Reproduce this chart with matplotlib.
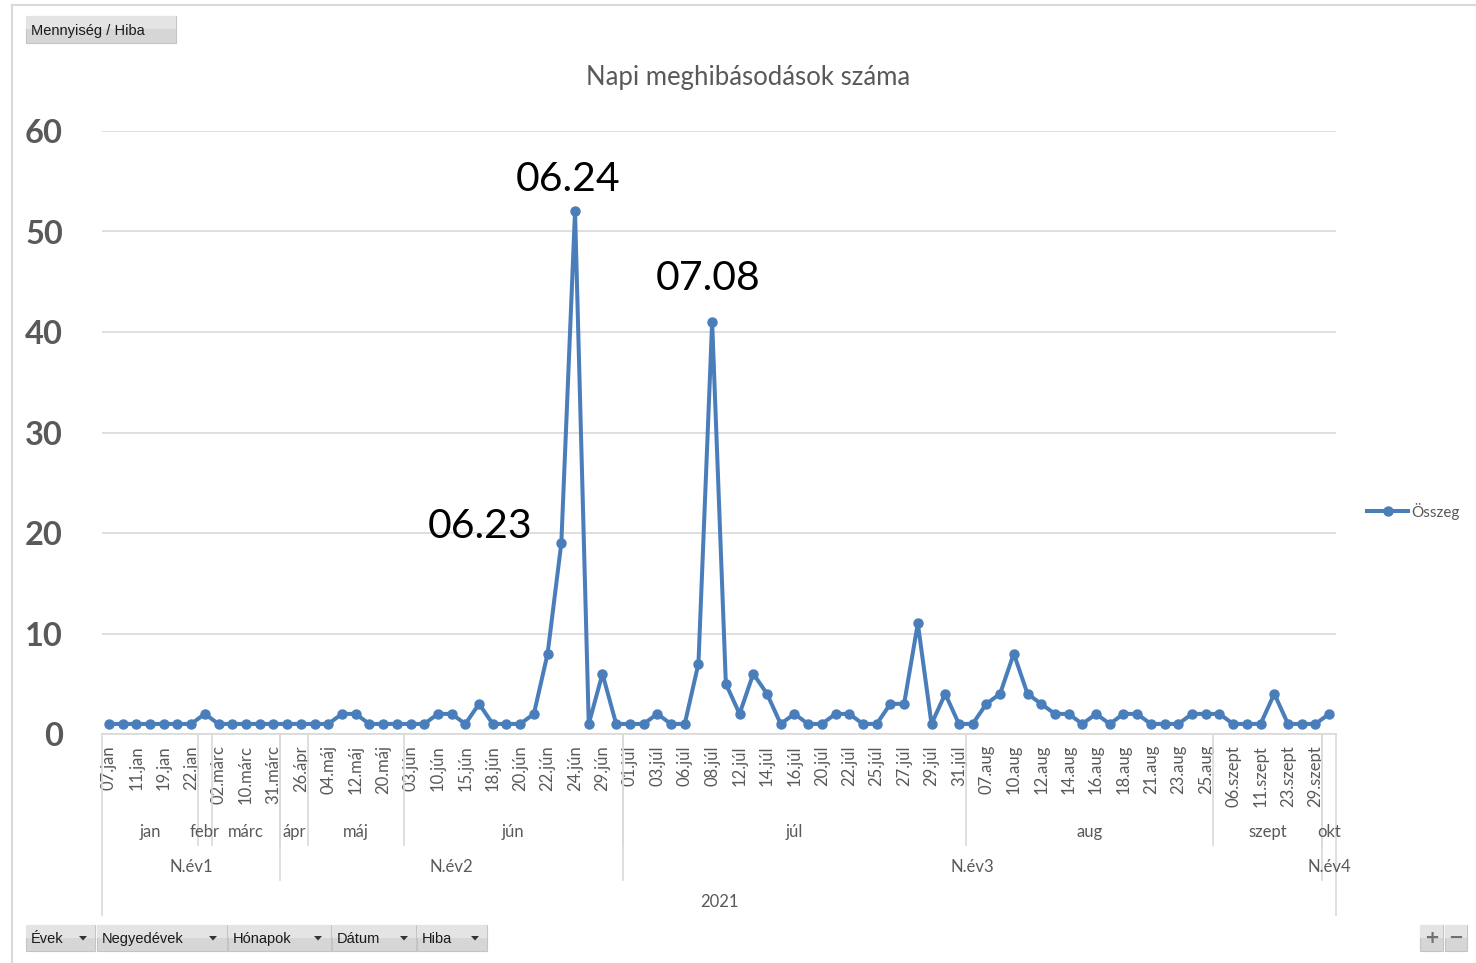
import matplotlib

matplotlib.use("Agg")
import matplotlib.pyplot as plt
from matplotlib.patches import Rectangle, Polygon
from matplotlib.lines import Line2D
from matplotlib.transforms import blended_transform_factory

W, H = 1476, 963

# daily failure counts, one per listed date (pivot chart categories)
values = [
    1, 1, 1, 1, 1, 1, 1,                      # jan
    2,                                        # febr
    1, 1, 1, 1, 1,                            # márc
    1, 1,                                     # ápr
    1, 1, 2, 2, 1, 1, 1,                      # máj
    1, 1, 2, 2, 1, 3, 1, 1, 1, 2, 8, 19, 52, 1, 6, 1,   # jún
    1, 1, 2, 1, 1, 7, 41, 5, 2, 6, 4, 1, 2, 1, 1, 2, 2, 1, 1, 3, 3, 11, 1, 4, 1,  # júl
    1, 3, 4, 8, 4, 3, 2, 2, 1, 2, 1, 2, 2, 1, 1, 1, 2, 2,  # aug
    2, 1, 1, 1, 4, 1, 1, 1,                   # szept
    2,                                        # okt
]

# only every second date label is shown on the axis
date_labels = [
    "07.jan", "11.jan", "19.jan", "22.jan", "02.márc", "10.márc", "31.márc",
    "26.ápr", "04.máj", "12.máj", "20.máj", "03.jún", "10.jún", "15.jún",
    "18.jún", "20.jún", "22.jún", "24.jún", "29.jún", "01.júl", "03.júl",
    "06.júl", "08.júl", "12.júl", "14.júl", "16.júl", "20.júl", "22.júl",
    "25.júl", "27.júl", "29.júl", "31.júl", "07.aug", "10.aug", "12.aug",
    "14.aug", "16.aug", "18.aug", "21.aug", "23.aug", "25.aug", "06.szept",
    "11.szept", "23.szept", "29.szept",
]

months = ["jan", "febr", "márc", "ápr", "máj", "jún", "júl", "aug", "szept", "okt"]
month_counts = [7, 1, 5, 2, 7, 16, 25, 18, 8, 1]
quarters = ["N.év1", "N.év2", "N.év3", "N.év4"]
quarter_counts = [13, 25, 51, 1]
year_label = "2021"

# highlighted points: (index, text)
callouts = [(33, "06.23"), (34, "06.24"), (44, "07.08")]

GRAY = "#595959"
GRID = "#d9d9d9"
BLUE = "#4a7ebb"
FONT = "Lato"


def fx(x):
    return x / W


def fy(y):
    return 1 - y / H


fig = plt.figure(figsize=(W / 100, H / 100), dpi=100)
fig.patch.set_facecolor("white")

# outer frame of the chart object
fig.add_artist(Line2D([fx(12), fx(1476)], [fy(5), fy(5)], color=GRID, lw=1.5))
fig.add_artist(Line2D([fx(12), fx(12)], [fy(5), fy(963)], color=GRID, lw=1.5))

ax = fig.add_axes([fx(102), fy(734), fx(1336) - fx(102), (734 - 131) / H])
n = len(values)
x = list(range(n))
ax.plot(x, values, color=BLUE, lw=2.9, marker="o", ms=6.5, zorder=3)
ax.set_xlim(-0.5, n - 0.5)
ax.set_ylim(0, 60)
ax.set_yticks(range(0, 61, 10))
ax.yaxis.grid(True, color=GRID, lw=1.2)
ax.set_axisbelow(True)
for s in ("left", "right", "top"):
    ax.spines[s].set_visible(False)
ax.spines["bottom"].set_color(GRID)
ax.spines["bottom"].set_linewidth(1.2)
ax.tick_params(axis="y", length=0, pad=28, labelsize=23.5, labelcolor=GRAY)
for lab in ax.get_yticklabels():
    lab.set_fontweight("bold")
    lab.set_family(FONT)
ax.set_xticks(range(0, n, 2))
ax.set_xticklabels(date_labels, rotation=90, fontsize=12, color=GRAY, family=FONT)
ax.tick_params(axis="x", length=0, pad=8)

# callout labels
offsets = {33: (-81, 17), 34: (-7, 32), 44: (-4, 43)}
for i, txt in callouts:
    dx, dy = offsets[i]
    ax.annotate(txt, (i, values[i]), xytext=(dx, dy), textcoords="offset pixels",
                ha="center", va="center", fontsize=29.5, family=FONT, color="black")

# multi-level category axis (months / quarters / year)
tr = blended_transform_factory(ax.transData, fig.transFigure)


def group_row(names, counts, ytext, yline):
    start = 0
    for name, c in zip(names, counts):
        mid = start + (c - 1) / 2
        ax.text(mid, fy(ytext), name, transform=tr, ha="center", va="center",
                fontsize=12, color=GRAY, family=FONT, clip_on=False)
        start += c
        if start < n:
            ax.add_artist(Line2D([start - 0.5, start - 0.5], [fy(734), fy(yline)],
                                 transform=tr, color=GRID, lw=1.2, clip_on=False))


group_row(months, month_counts, 832, 845)
group_row(quarters, quarter_counts, 867, 880)
ax.text((n - 1) / 2, fy(902), year_label, transform=tr, ha="center", va="center",
        fontsize=12, color=GRAY, family=FONT, clip_on=False)
for edge in (-0.5, n - 0.5):
    ax.add_artist(Line2D([edge, edge], [fy(734), fy(915)], transform=tr,
                         color=GRID, lw=1.2, clip_on=False))

# title
fig.text(fx(748), fy(77), "Napi meghibásodások száma", ha="center", va="center",
         fontsize=18.5, color=GRAY, family=FONT)

# legend
fig.add_artist(Line2D([fx(1367), fx(1408)], [fy(511), fy(511)], color=BLUE, lw=2.9))
fig.add_artist(Line2D([fx(1388)], [fy(511)], color=BLUE, marker="o", ms=6.5))
fig.text(fx(1411), fy(511), "Összeg", ha="left", va="center", fontsize=11,
         color=GRAY, family=FONT)


# pivot field buttons
def button(x0, x1, y0, y1, label=None, arrow_x=None, center=False):
    fig.add_artist(Rectangle((fx(x0), fy(y1)), fx(x1) - fx(x0), (y1 - y0) / H,
                             transform=fig.transFigure, facecolor="#d6d6d6",
                             edgecolor="#c4c4c4", lw=0.8))
    fig.add_artist(Rectangle((fx(x0), fy((y0 + y1) / 2)), fx(x1) - fx(x0),
                             (y1 - y0) / 2 / H, transform=fig.transFigure,
                             facecolor="#e4e4e4", edgecolor="none"))
    if label is not None:
        if center:
            fig.text(fx((x0 + x1) / 2), fy((y0 + y1) / 2), label, ha="center",
                     va="center", fontsize=13, color="#707070",
                     family="DejaVu Sans", fontweight="bold")
        else:
            fig.text(fx(x0 + 5), fy((y0 + y1) / 2 + 1), label, ha="left",
                     va="center", fontsize=10.5, color="#1a1a1a",
                     family="Liberation Sans")
    if arrow_x is not None:
        yc = (y0 + y1) / 2
        fig.add_artist(Polygon([(fx(arrow_x - 4), fy(yc - 2)), (fx(arrow_x + 4), fy(yc - 2)),
                                (fx(arrow_x), fy(yc + 2.5))], closed=True,
                               transform=fig.transFigure, facecolor="#333333",
                               edgecolor="none"))


button(26, 176, 16, 43, "Mennyiség / Hiba")
button(26, 95, 925, 951, "Évek", 83)
button(97, 227, 925, 951, "Negyedévek", 213)
button(228, 331, 925, 951, "Hónapok", 318)
button(332, 416, 925, 951, "Dátum", 404)
button(417, 487, 925, 951, "Hiba", 475)
button(1420, 1443, 925, 951, "+", center=True)
button(1445, 1467, 925, 951, "−", center=True)

fig.savefig("out.png", dpi=100)
